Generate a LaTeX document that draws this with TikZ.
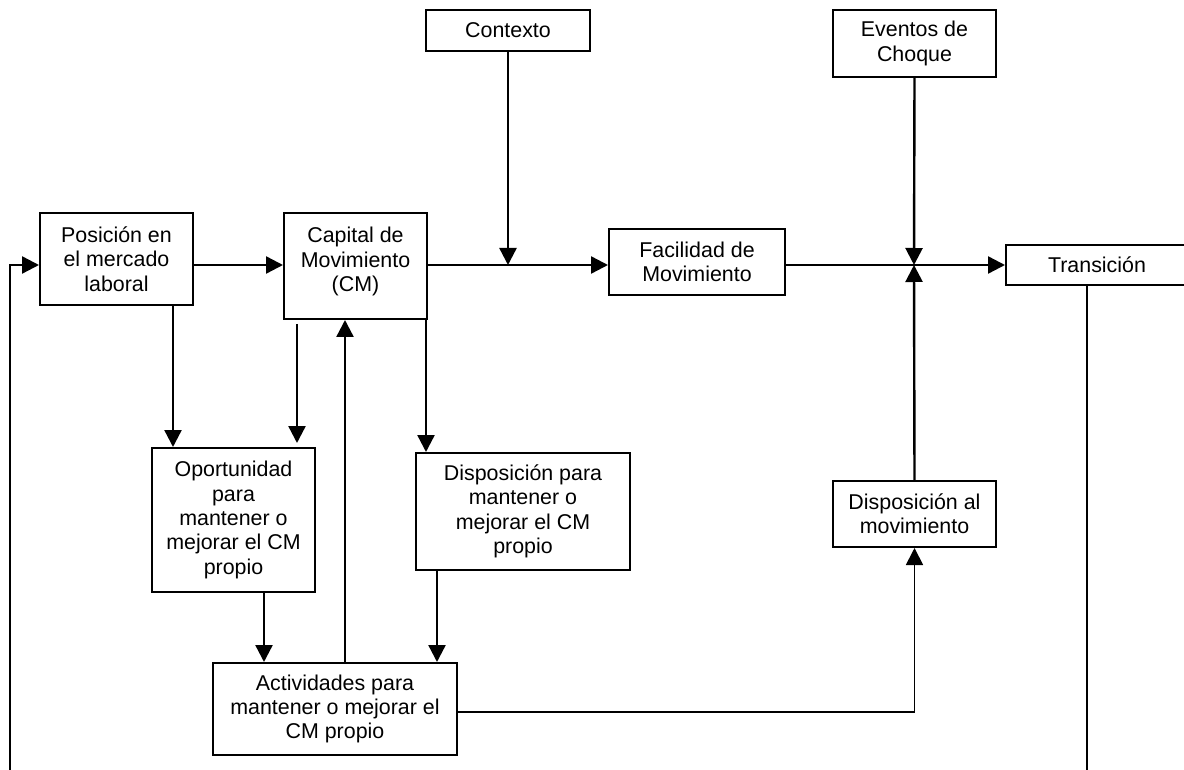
\documentclass[tikz,border=0pt]{standalone}
\usepackage{fontspec}
\setmainfont{Liberation Sans}
\usetikzlibrary{arrows.meta}

\tikzset{
  caja/.style={draw, line width=1pt, align=center, inner sep=0pt,
    font=\fontsize{10.7}{12.2}\selectfont},
  flecha/.style={line width=1.2pt, -{Triangle[length=8.5pt,width=8.5pt]}},
  linea/.style={line width=1.2pt},
}

\begin{document}
\begin{tikzpicture}[x=0.5pt, y=-0.5pt]
    \path[use as bounding box, clip] (0,0) rectangle (1184,770);

    % cajas
    \node[caja, minimum width=76.5pt, minimum height=46pt] (pos) at (116.5,259) {Posición en\\el mercado\\laboral};
    \node[caja, minimum width=71.5pt, minimum height=53pt, text depth=6.5pt] (cap) at (355.5,266) {Capital de\\Movimiento\\(CM)};
    \node[caja, minimum width=82pt, minimum height=20.5pt] (ctx) at (508,30.5) {Contexto};
    \node[caja, minimum width=88pt, minimum height=33pt] (fac) at (697,262) {Facilidad de\\Movimiento};
    \node[caja, minimum width=81.5pt, minimum height=33.5pt] (evt) at (914.5,43.5) {Eventos de\\Choque};
    \node[caja, minimum width=91pt, minimum height=20pt] (tra) at (1097,265) {Transición};
    \node[caja, minimum width=81.5pt, minimum height=72pt] (opo) at (233.5,520) {Oportunidad\\para\\mantener o\\mejorar el CM\\propio};
    \node[caja, minimum width=107pt, minimum height=58.5pt] (dpm) at (523,511.5) {Disposición para\\mantener o\\mejorar el CM\\propio};
    \node[caja, minimum width=122pt, minimum height=46pt] (act) at (335,709) {Actividades para\\mantener o mejorar el\\CM propio};
    \node[caja, minimum width=81.5pt, minimum height=33pt] (dmv) at (914.5,514) {Disposición al\\movimiento};

    \coordinate (j1) at (508,265);
    \coordinate (j2) at (914,265);
    \coordinate (xa) at (173,0);
    \coordinate (xb) at (297,0);
    \coordinate (xc) at (345,0);
    \coordinate (xd) at (426,0);
    \coordinate (xe) at (264,0);
    \coordinate (xf) at (437,0);
    \coordinate (fb) at (10,770);
    \coordinate (te) at (1087,770);

    % linea principal
    \draw[flecha] (pos.east |- j1) -- (cap.west |- j1);
    \draw[flecha] (cap.east |- j1) -- (fac.west |- j1);
    \draw[flecha] (ctx.south) -- (j1);
    \draw[flecha] (fac.east |- j2) -- (tra.west |- j2);
    \draw[flecha] (evt.south) -- (j2);
    \draw[flecha] (dmv.north) -- (j2);

    % ramas hacia abajo
    \draw[flecha] (pos.south -| xa) -- (opo.north -| xa);
    \draw[flecha, shorten <=2pt, shorten >=2pt] (cap.south -| xb) -- (opo.north -| xb);
    \draw[flecha] (act.north -| xc) -- (cap.south -| xc);
    \draw[flecha] (cap.south -| xd) -- (dpm.north -| xd);
    \draw[flecha] (opo.south -| xe) -- (act.north -| xe);
    \draw[flecha] (dpm.south -| xf) -- (act.north -| xf);
    \draw[flecha, line width=0.9pt] ([yshift=-1.5pt]act.east) -| (dmv.south);

    % retroalimentacion
    \draw[flecha] (fb) |- (pos.west |- j1);
    \draw[linea] (tra.south -| te) -- (te);
\end{tikzpicture}
\end{document}
